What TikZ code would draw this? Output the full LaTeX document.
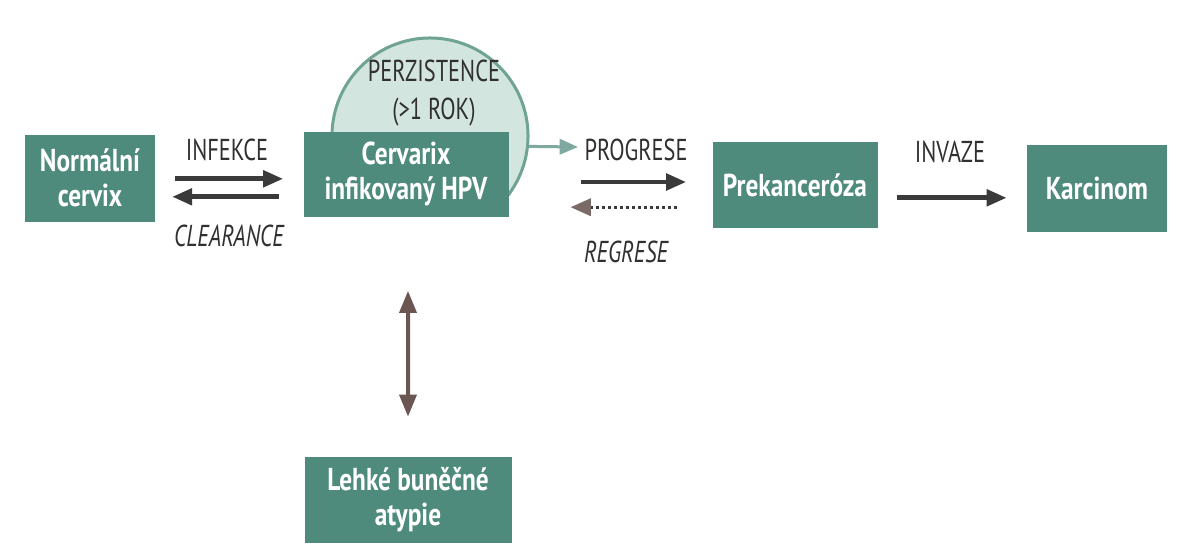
\documentclass[tikz,border=0pt]{standalone}
\usepackage{fontspec}
\setmainfont{PT Sans}
\newfontfamily\condfont[FakeStretch=0.8]{PT Sans}
\newfontfamily\narrowfont[FakeStretch=0.74]{PT Sans}
\usepackage{xcolor}
\usetikzlibrary{positioning,arrows.meta}
\definecolor{boxteal}{HTML}{4F8B7C}
\definecolor{circfill}{HTML}{D3E5DF}
\definecolor{circline}{HTML}{6FA393}
\definecolor{tealarrow}{HTML}{7FA9A0}
\definecolor{darkarrow}{HTML}{3A3A3A}
\definecolor{brownarrow}{HTML}{6B5651}
\definecolor{dotarrow}{HTML}{7B6B66}
\definecolor{labeltext}{HTML}{303030}

\begin{document}
\begin{tikzpicture}[x=0.025cm,y=-0.025cm,
        stage/.style={rectangle,fill=boxteal,text=white,align=center,
                      inner sep=0pt,
                      font=\condfont\bfseries\fontsize{22.5}{25}\selectfont},
        lbl/.style={text=labeltext,align=center,inner sep=0pt,
                    font=\narrowfont\fontsize{21.5}{27}\selectfont},
        ilbl/.style={lbl,font=\narrowfont\itshape\fontsize{21.5}{27}\selectfont},
        flow/.style={draw=darkarrow,line width=0.12cm,
                     -{Triangle[length=0.5cm,width=0.4cm]}}]
        \useasboundingbox (0,0) rectangle (1177,552);
        % persistence bubble, hidden below the HPV box
        \begin{scope}
          \clip (0,0) rectangle (1177,216);
          \node[circle,draw=circline,fill=circfill,line width=0.075cm,
                minimum size=4.9cm,inner sep=0pt] (pers) at (430,136) {};
        \end{scope}
        \node[lbl] (perstxt) at (434,93) {PERZISTENCE\\(>1 ROK)};
        % stages
        \foreach \n/\x/\y/\w/\h/\txt in {
            norm/90/178/130/87/{Norm\'aln\'i\\cervix},
            cerv/406/174/205/85/{Cervarix\\infikovan\'y HPV},
            prek/795/185/165/86/{Prekancer\'oza},
            karc/1097/188/140/87/{Karcinom},
            lehke/408/500/207/86/{Lehk\'e bun\v{e}\v{c}n\'e\\atypie}}{
          \node[stage,minimum width=\w*0.025cm,minimum height=\h*0.025cm]
            (\n) at (\x,\y) {\txt};
        }
        % infection / clearance
        \draw[flow,shorten <=0.5cm,shorten >=0.5cm]
          ([yshift=-0.02cm]norm.east) -- ([yshift=-0.02cm]norm.east -| cerv.west);
        \draw[flow,shorten <=0.6cm,shorten >=0.42cm]
          ([yshift=-0.47cm]norm.east -| cerv.west) -- ([yshift=-0.47cm]norm.east);
        \node[lbl] (infl) at (227,150) {INFEKCE};
        \node[ilbl] (clrl) at (229,236) {CLEARANCE};
        % progression / regression
        \coordinate (progtip) at (578,147);
        \draw[draw=tealarrow,line width=0.075cm,
              -{Triangle[length=0.46cm,width=0.38cm]}]
          (pers.-6) -- (progtip);
        \node[lbl] (progl) at (636,150) {PROGRESE};
        \draw[flow,shorten <=1.8cm,shorten >=0.65cm]
          ([yshift=-0.2cm]cerv.east) -- ([yshift=-0.2cm]cerv.east -| prek.west);
        \draw[draw=darkarrow,line width=0.08cm,dotted,shorten <=0.88cm,
              shorten >=1.55cm,
              -{Triangle[length=0.5cm,width=0.45cm,color=dotarrow,
                         line width=0pt,sep=0pt]}]
          ([yshift=-0.83cm]cerv.east -| prek.west) -- ([yshift=-0.83cm]cerv.east);
        \node[ilbl] (regl) at (626,252) {REGRESE};
        % invasion
        \draw[flow,shorten <=0.48cm,shorten >=0.5cm]
          ([yshift=-0.32cm]prek.east) -- ([yshift=-0.32cm]prek.east -| karc.west);
        \node[lbl] (invl) at (950,152) {INVAZE};
        % atypia
        \draw[draw=brownarrow,line width=0.1cm,
              {Triangle[length=0.55cm,width=0.42cm]}-{Triangle[length=0.55cm,width=0.42cm]},
              shorten <=1.85cm,shorten >=1.0cm]
          ([xshift=0.05cm]cerv.south) -- ([xshift=0cm]lehke.north);
      \end{tikzpicture}
\end{document}
